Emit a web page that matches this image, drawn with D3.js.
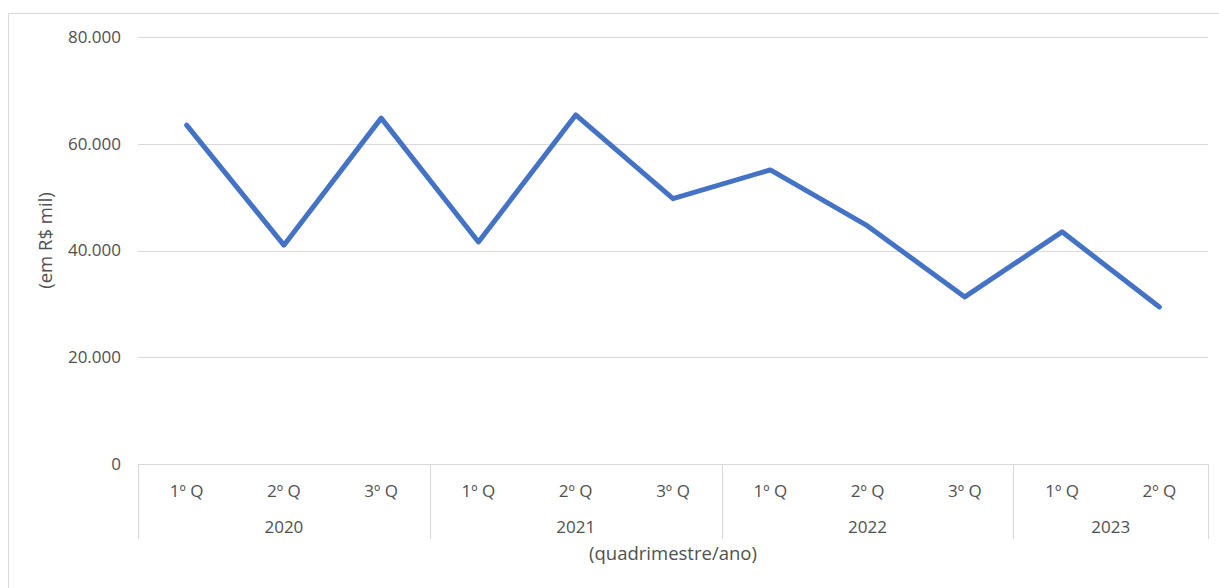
<!DOCTYPE html>
<html>
<head>
<meta charset="utf-8">
<script src="https://cdn.jsdelivr.net/npm/d3@7"></script>
<style>
  body { margin: 0; background: #fff; }
  svg text { font-family: "Open Sans", "Liberation Sans", sans-serif; fill: #505050; }
</style>
</head>
<body>
<svg id="chart"></svg>
<script>
const years = ["2020", "2021", "2022", "2023"];
const quarters = [
  ["1º Q", "2º Q", "3º Q"],
  ["1º Q", "2º Q", "3º Q"],
  ["1º Q", "2º Q", "3º Q"],
  ["1º Q", "2º Q"]
];
const values = [63500, 41000, 64800, 41600, 65400, 49700, 55100, 44600, 31300, 43500, 29400];
const yTicks = [0, 20000, 40000, 60000, 80000];

const W = 1219, H = 588;
const margin = {top: 37, right: 11, bottom: 124, left: 138};
const width = W - margin.left - margin.right;
const height = H - margin.top - margin.bottom;

const svg = d3.select("#chart").attr("width", W).attr("height", H);

// outer frame
svg.append("rect")
  .attr("x", 8.5).attr("y", 13.5)
  .attr("width", W).attr("height", H)
  .attr("fill", "none").attr("stroke", "#d9d9d9").attr("stroke-width", 1);

const g = svg.append("g").attr("transform", `translate(${margin.left},${margin.top})`);

// flatten categories
const cats = [];
quarters.forEach((qs, yi) => qs.forEach(q => cats.push({year: years[yi], q, key: years[yi] + "-" + q})));

const x = d3.scaleBand().domain(cats.map(c => c.key)).range([0, width]);
const y = d3.scaleLinear().domain([0, 80000]).range([height, 0]);

// gridlines
g.selectAll(".grid").data(yTicks.slice(1)).enter().append("line")
  .attr("x1", 0).attr("x2", width)
  .attr("y1", d => Math.round(y(d)) + 0.5).attr("y2", d => Math.round(y(d)) + 0.5)
  .attr("stroke", "#d9d9d9").attr("stroke-width", 1);

// y labels
const fmt = d => d === 0 ? "0" : d3.format(",")(d).replace(/,/g, ".");
g.selectAll(".ylab").data(yTicks).enter().append("text")
  .attr("x", -17).attr("y", d => y(d))
  .attr("dy", "0.35em")
  .attr("text-anchor", "end")
  .style("font-size", "17px")
  .text(fmt);

// baseline
g.append("line")
  .attr("x1", 0).attr("x2", width)
  .attr("y1", height + 0.5).attr("y2", height + 0.5)
  .attr("stroke", "#d9d9d9");

// group separators
const bounds = [0];
let acc = 0;
quarters.forEach(qs => { acc += qs.length; bounds.push(acc); });
g.selectAll(".sep").data(bounds).enter().append("line")
  .attr("x1", d => Math.round(d * x.bandwidth()) + 0.5)
  .attr("x2", d => Math.round(d * x.bandwidth()) + 0.5)
  .attr("y1", height).attr("y2", height + 75)
  .attr("stroke", "#d9d9d9");

// quarter labels
g.selectAll(".qlab").data(cats).enter().append("text")
  .attr("x", d => x(d.key) + x.bandwidth() / 2)
  .attr("y", height + 33)
  .attr("text-anchor", "middle")
  .style("font-size", "17px")
  .text(d => d.q);

// year labels
g.selectAll(".yrlab").data(years).enter().append("text")
  .attr("x", (d, i) => (bounds[i] + bounds[i + 1]) / 2 * x.bandwidth())
  .attr("y", height + 69)
  .attr("text-anchor", "middle")
  .style("font-size", "17px")
  .text(d => d);

// axis titles
g.append("text")
  .attr("x", width / 2).attr("y", height + 96)
  .attr("text-anchor", "middle")
  .style("font-size", "18.5px")
  .text("(quadrimestre/ano)");

g.append("text")
  .attr("transform", `translate(${-86},${height / 2 - 10}) rotate(-90)`)
  .attr("text-anchor", "middle")
  .style("font-size", "18.5px")
  .text("(em R$ mil)");

// line
const line = d3.line()
  .x((d, i) => x(cats[i].key) + x.bandwidth() / 2)
  .y(d => y(d));

g.append("path")
  .datum(values)
  .attr("d", line)
  .attr("fill", "none")
  .attr("stroke", "#4472c4")
  .attr("stroke-width", 5)
  .attr("stroke-linejoin", "round")
  .attr("stroke-linecap", "round");
</script>
</body>
</html>
